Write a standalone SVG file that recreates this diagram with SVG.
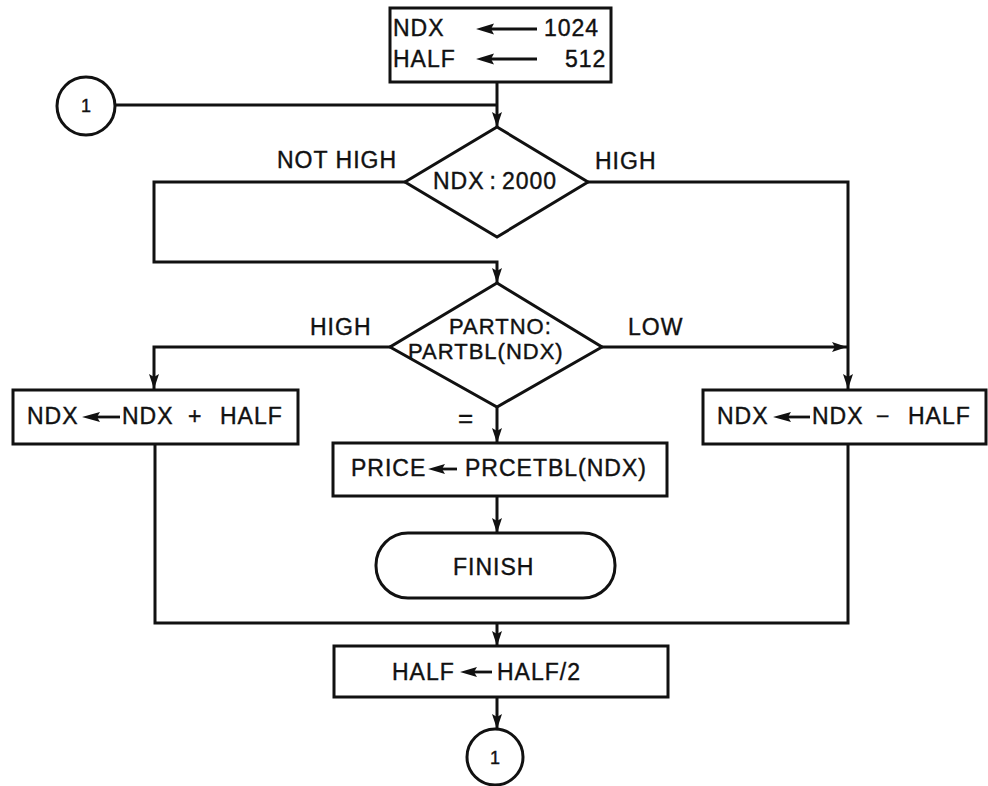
<svg xmlns="http://www.w3.org/2000/svg" width="988" height="786" viewBox="0 0 988 786">
  <defs>
    <marker id="head" markerUnits="userSpaceOnUse" markerWidth="16" markerHeight="12" refX="15" refY="6" orient="auto">
      <path d="M0,1 L15,6 L0,11 L3,6 z" fill="#111"/>
    </marker>
    <style>
      .shape { fill: #fff; stroke: #111; stroke-width: 3; }
      .flow { fill: none; stroke: #111; stroke-width: 3; stroke-linejoin: miter; }
      .lbl { font-family: "Liberation Sans", Arial, sans-serif; font-size: 23px; letter-spacing: 1px; fill: #111; stroke: #111; stroke-width: 0.4; }
      .tight { font-size: 22px; }
      .num { font-family: "Liberation Sans", Arial, sans-serif; font-size: 18px; fill: #111; stroke: #111; stroke-width: 0.4; text-anchor: middle; }
      .assign { fill: none; stroke: #111; stroke-width: 2.8; }
      .tip { fill: #111; }
    </style>
  </defs>
  <rect width="988" height="786" fill="#fff"/>

  <!-- connectors -->
  <g id="connectors">
    <path class="flow" d="M497,82 V127" marker-end="url(#head)"/>
    <path class="flow" d="M115,105 H497"/>
    <path class="flow" d="M405,182 H154 V262 H497 V283" marker-end="url(#head)"/>
    <path class="flow" d="M588,182 H848 V389" marker-end="url(#head)"/>
    <path class="flow" d="M390,347 H154 V389" marker-end="url(#head)"/>
    <path class="flow" d="M602,347 H847" marker-end="url(#head)"/>
    <path class="flow" d="M497,407 V443" marker-end="url(#head)"/>
    <path class="flow" d="M497,496 V533" marker-end="url(#head)"/>
    <path class="flow" d="M155,444 V623 H848 V444"/>
    <path class="flow" d="M497,623 V646" marker-end="url(#head)"/>
    <path class="flow" d="M497,697 V729" marker-end="url(#head)"/>
    <text class="lbl" x="277" y="168">NOT HIGH</text>
    <text class="lbl" x="595" y="169">HIGH</text>
    <text class="lbl" x="310" y="335">HIGH</text>
    <text class="lbl" x="628" y="335">LOW</text>
    <text class="lbl" x="458" y="427" style="font-size:26px">=</text>
  </g>

  <!-- initialise NDX and HALF -->
  <g id="init">
    <rect class="shape" x="390" y="8" width="221" height="74"/>
    <text class="lbl" x="393" y="36">NDX</text>
    <text class="lbl" x="544" y="36">1024</text>
    <text class="lbl" x="393" y="67">HALF</text>
    <text class="lbl" x="565" y="67">512</text>
    <path class="assign" d="M488,29 H537 M488,59 H537"/>
    <path class="tip" d="M476,29 L494,23.5 L491,29 L494,34.5 z M476,59 L494,53.5 L491,59 L494,64.5 z"/>
  </g>

  <!-- entry connector 1 -->
  <g id="entry1">
    <circle class="shape" cx="86" cy="106" r="29"/>
    <text class="num" x="86" y="112">1</text>
  </g>

  <!-- NDX : 2000 test -->
  <g id="test-ndx">
    <polygon class="shape" points="497,127 588,182 497,237 405,182"/>
    <text class="lbl" x="433" y="189">NDX<tspan dx="5">:</tspan><tspan dx="5">2000</tspan></text>
  </g>

  <!-- PARTNO : PARTBL(NDX) test -->
  <g id="test-part">
    <polygon class="shape" points="497,283 602,347 497,407 390,347"/>
    <text class="lbl tight" x="449" y="334">PARTNO:</text>
    <text class="lbl tight" x="408" y="359">PARTBL(NDX)</text>
  </g>

  <!-- NDX <- NDX + HALF -->
  <g id="step-up">
    <rect class="shape" x="13" y="390" width="285" height="54"/>
    <text class="lbl" y="424"><tspan x="27">NDX</tspan><tspan x="122">NDX</tspan><tspan x="188">+</tspan><tspan x="220">HALF</tspan></text>
    <path class="assign" d="M94,417 H120"/>
    <path class="tip" d="M82,417 L100,412 L97,417 L100,422 z"/>
  </g>

  <!-- NDX <- NDX - HALF -->
  <g id="step-down">
    <rect class="shape" x="703" y="390" width="283" height="54"/>
    <text class="lbl" y="424"><tspan x="717">NDX</tspan><tspan x="812">NDX</tspan><tspan x="876">−</tspan><tspan x="908">HALF</tspan></text>
    <path class="assign" d="M785,417 H810"/>
    <path class="tip" d="M773,417 L791,412 L788,417 L791,422 z"/>
  </g>

  <!-- PRICE <- PRCETBL(NDX) -->
  <g id="lookup">
    <rect class="shape" x="333" y="443" width="334" height="53"/>
    <text class="lbl" y="476"><tspan x="351">PRICE</tspan><tspan x="465">PRCETBL(NDX)</tspan></text>
    <path class="assign" d="M440,469 H457"/>
    <path class="tip" d="M428,469 L445,464 L442,469 L445,474 z"/>
  </g>

  <!-- FINISH terminal -->
  <g id="finish">
    <rect class="shape" x="376" y="533" width="239" height="65" rx="32" ry="32"/>
    <text class="lbl" x="453" y="575">FINISH</text>
  </g>

  <!-- HALF <- HALF/2 -->
  <g id="halve">
    <rect class="shape" x="334" y="646" width="334" height="51"/>
    <text class="lbl" y="680"><tspan x="392">HALF</tspan><tspan x="497">HALF/2</tspan></text>
    <path class="assign" d="M472,672 H492"/>
    <path class="tip" d="M460,672 L477,667 L474,672 L477,677 z"/>
  </g>

  <!-- exit connector 1 -->
  <g id="exit1">
    <circle class="shape" cx="495" cy="757" r="28"/>
    <text class="num" x="495" y="764">1</text>
  </g>
</svg>
